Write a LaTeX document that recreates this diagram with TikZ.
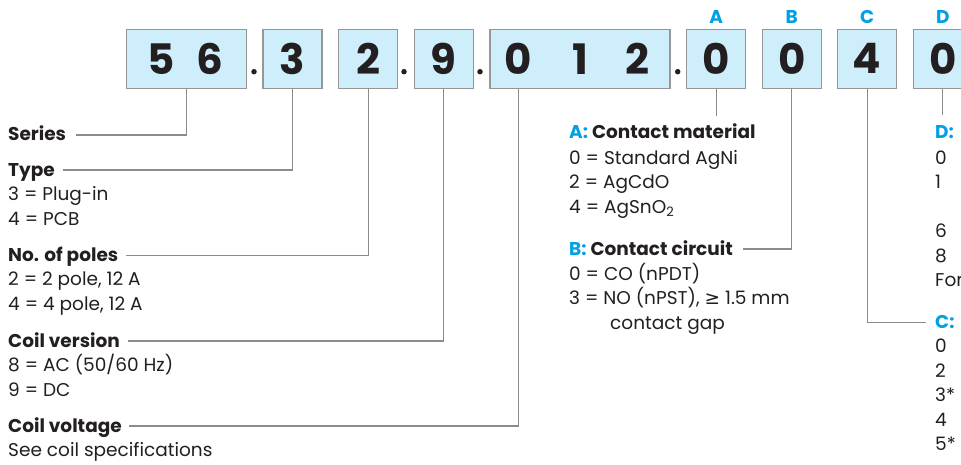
\documentclass[tikz,border=0pt]{standalone}
\usepackage{fontspec}
\setmainfont{Poppins}
\newfontfamily\symf{DejaVu Sans}
\definecolor{boxfill}{RGB}{205,238,250}
\definecolor{boxline}{RGB}{150,150,150}
\definecolor{ink}{RGB}{35,31,32}
\definecolor{cyanlab}{RGB}{0,160,227}
\definecolor{connc}{RGB}{140,140,140}
\begin{document}
\begin{tikzpicture}[x=1pt,y=-1pt,
  codebox/.style={draw=boxline,line width=1.3pt,fill=boxfill,minimum height=59pt,minimum width=59pt,inner sep=0pt,anchor=center},
  digit/.style={font=\fontsize{42}{42}\selectfont\bfseries,text=ink,inner sep=0pt,anchor=center},
  codedot/.style={circle,fill=ink,inner sep=0pt,minimum size=5.5pt},
  letterlab/.style={font=\fontsize{18.5}{18.5}\selectfont\bfseries,text=cyanlab,inner sep=0pt,anchor=center},
  head/.style={font=\fontsize{18.5}{18.5}\selectfont\bfseries,text=ink,inner sep=0pt,anchor=base west},
  item/.style={font=\fontsize{18.5}{18.5}\selectfont,text=ink,inner sep=0pt,anchor=base west},
  connline/.style={draw=connc,line width=1.2pt},
]
\useasboundingbox (0,0) rectangle (961,464);

% code boxes
\node[codebox,minimum width=120pt] (b1) at (186.7,58.8) {};
\node[digit] (d1a) at (161,58.8) {5};
\node[digit] (d1b) at (210,58.8) {6};
\node[codedot] (p1) at (254,71.7) {};
\node[codebox] (b2) at (292.4,58.8) {};
\node[digit] (d2) at (292.4,58.8) {3};
\node[codebox] (b3) at (368.2,58.8) {};
\node[digit] (d3) at (368.2,58.8) {2};
\node[codedot] (p2) at (404,71.7) {};
\node[codebox] (b4) at (443.8,58.8) {};
\node[digit] (d4) at (443.8,58.8) {9};
\node[codedot] (p3) at (480,71.7) {};
\node[codebox,minimum width=180pt] (b5) at (580,58.8) {};
\node[digit] (d5a) at (518.5,58.8) {0};
\node[digit] (d5b) at (580,58.8) {1};
\node[digit] (d5c) at (637,58.8) {2};
\node[codedot] (p4) at (677.7,71.7) {};
\node[codebox] (bA) at (716.2,58.8) {};
\node[digit] (dA) at (716.2,58.8) {0};
\node[codebox] (bB) at (791.7,58.8) {};
\node[digit] (dB) at (791.7,58.8) {0};
\node[codebox] (bC) at (867.2,58.8) {};
\node[digit] (dC) at (867.2,58.8) {4};
\node[codebox] (bD) at (942.8,58.8) {};
\node[digit] (dD) at (942.8,58.8) {0};

% letters above
\node[letterlab] (lA) at (716.2,16.7) {A};
\node[letterlab] (lB) at (791.7,16.7) {B};
\node[letterlab] (lC) at (867.2,16.7) {C};
\node[letterlab] (lD) at (942.8,16.7) {D};

% left column
\node[head] (series) at (8,140) {Series};
\node[head] (type) at (8,176) {Type};
\node[item] (t3) at (8,200.5) {3 = Plug-in};
\node[item] (t4) at (8,225) {4 = PCB};
\node[head] (poles) at (8,261) {No. of poles};
\node[item] (p2i) at (8,285.5) {2 = 2 pole, 12 A};
\node[item] (p4i) at (8,310) {4 = 4 pole, 12 A};
\node[head] (cver) at (8,347) {Coil version};
\node[item] (c8) at (8,371.5) {8 = AC (50/60 Hz)};
\node[item] (c9) at (8,396) {9 = DC};
\node[head] (cvolt) at (8,432) {Coil voltage};
\node[item] (see) at (8,456.5) {See coil specifications};

% middle column
\node[head] (hA) at (569,138.5) {{\color{cyanlab}A:} Contact material};
\node[item] (a0) at (569,164) {0 = Standard AgNi};
\node[item] (a2) at (569,188.5) {2 = AgCdO};
\node[item] (a4) at (569,213) {4 = AgSnO\textsubscript{2}};
\node[head] (hB) at (569,255) {{\color{cyanlab}B:} Contact circuit};
\node[item] (bb0) at (569,280) {0 = CO (nPDT)};
\node[item] (bb3) at (569,304.5) {3 = NO (nPST), {\symf ≥} 1.5 mm};
\node[item] (bbg) at (610,329) {contact gap};

% right column
\node[head] (hD) at (935,138.5) {{\color{cyanlab}D:}};
\node[item] (dd0) at (935,164) {0};
\node[item] (dd1) at (935,188.5) {1};
\node[item] (dd6) at (935,237.5) {6};
\node[item] (dd8) at (935,262) {8};
\node[item] (ddf) at (935,286.5) {For};
\node[head] (hC) at (935,328) {{\color{cyanlab}C:}};
\node[item] (cc0) at (935,352.5) {0};
\node[item] (cc2) at (935,377) {2};
\node[item] (cc3) at (935,401.5) {3*};
\node[item] (cc4) at (935,426) {4};
\node[item] (cc5) at (935,450.5) {5*};

% connectors
\draw[connline] (b1.south) |- ([xshift=10pt,yshift=5pt]series.base east);
\draw[connline] (b2.south) |- ([xshift=8pt,yshift=6pt]type.base east);
\draw[connline] (b3.south) |- ([xshift=8pt,yshift=5.3pt]poles.base east);
\draw[connline] (b4.south) |- ([xshift=8pt,yshift=6pt]cver.base east);
\draw[connline] (d5a |- b5.south) |- ([xshift=7pt,yshift=6pt]cvolt.base east);
\draw[connline] (bA.south) -- ++(0,27);
\draw[connline] (bB.south) |- ([xshift=10pt,yshift=6pt]hB.base east);
\draw[connline] (bC.south) |- ([xshift=-9pt,yshift=5.7pt]hC.base west);
\draw[connline] (bD.south) -- ++(0,26);
\end{tikzpicture}
\end{document}
